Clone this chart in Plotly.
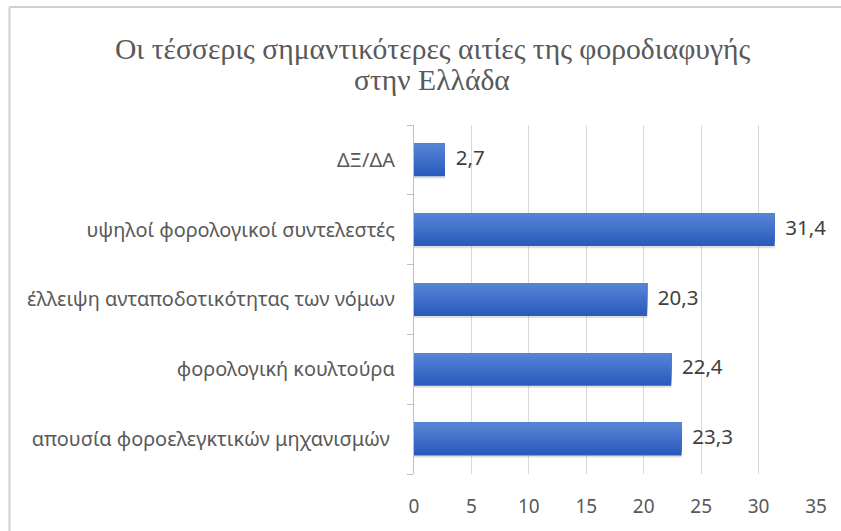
import plotly.graph_objects as go

# Causes of tax evasion in Greece (percent), listed bottom to top
categories = [
    "απουσία φοροελεγκτικών μηχανισμών\u00a0",
    "φορολογική κουλτούρα",
    "έλλειψη ανταποδοτικότητας των νόμων",
    "υψηλοί φορολογικοί συντελεστές",
    "ΔΞ/ΔΑ",
]
values = [23.3, 22.4, 20.3, 31.4, 2.7]
x_ticks = [0, 5, 10, 15, 20, 25, 30, 35]

title_lines = ["Οι τέσσερις σημαντικότερες αιτίες της φοροδιαφυγής", "στην Ελλάδα"]

BAR_W = 0.47
label_text = [f"{v:.1f}".replace(".", ",") for v in values]

W, H = 841, 531
L, R, T, B = 414, 25, 125, 54
plot_h = H - T - B
plot_w = W - L - R

fig = go.Figure()

# soft drop shadow below each bar
fig.add_trace(go.Bar(
    y=categories, x=values, orientation="h",
    width=BAR_W, offset=-BAR_W / 2 - 0.03,
    marker=dict(color="rgba(0,0,0,0.12)", line=dict(width=0)),
    hoverinfo="skip", showlegend=False,
))

# vertical colour gradient: each layer covers a shorter top portion, lighter each time
strip_colors = ["#2c5cbb", "#3060bf", "#3464c2", "#3969c5", "#3e6dc8",
                "#4372cb", "#4876ce", "#4d7ad0", "#527fd2", "#5783d4"]
n = len(strip_colors)
for i, col in enumerate(strip_colors):
    fig.add_trace(go.Bar(
        y=categories, x=values, orientation="h",
        width=BAR_W - i * BAR_W / n, offset=-BAR_W / 2 + i * BAR_W / n,
        marker=dict(color=col, line=dict(width=0)),
        hoverinfo="skip", showlegend=False,
    ))

# value labels to the right of each bar
fig.add_trace(go.Scatter(
    y=categories, x=values, mode="text",
    text=["  " + t for t in label_text], textposition="middle right",
    textfont=dict(family="Noto Sans", size=20.5, color="#404040"),
    hoverinfo="skip", showlegend=False, cliponaxis=False,
))

annotations = []
for k, line in enumerate(title_lines):
    annotations.append(dict(
        text=line, showarrow=False,
        xref="paper", x=(432 - L) / plot_w, xanchor="center",
        yref="paper", y=1 + (T - (48 + 32 * k)) / plot_h, yanchor="middle",
        font=dict(family="Liberation Serif", size=29.6, color="#595959"),
    ))

# chart frame: top and left edges of the outer border
frame_x0 = (9.5 - L) / plot_w
frame_y1 = 1 + (T - 6) / plot_h
frame = [
    dict(type="line", xref="paper", yref="paper",
         x0=frame_x0, x1=1.1, y0=frame_y1, y1=frame_y1,
         line=dict(color="#d0d0d0", width=2), layer="below"),
    dict(type="line", xref="paper", yref="paper",
         x0=frame_x0, x1=frame_x0, y0=-0.2, y1=frame_y1,
         line=dict(color="#d0d0d0", width=2), layer="below"),
]

fig.update_layout(
    width=W, height=H,
    margin=dict(l=L, r=R, t=T, b=B),
    paper_bgcolor="white", plot_bgcolor="white",
    barmode="overlay",
    separators=",.",
    annotations=annotations,
    shapes=frame,
    xaxis=dict(
        range=[0, 35], tickvals=x_ticks, ticktext=[str(t) for t in x_ticks],
        showgrid=True, gridcolor="#d9d9d9", gridwidth=1.3,
        zeroline=False, showline=False,
        ticks="", ticklabelstandoff=19,
        tickfont=dict(family="Noto Sans", size=19, color="#595959"),
        fixedrange=True,
    ),
    yaxis=dict(
        type="category", categoryorder="array", categoryarray=categories,
        showline=True, linecolor="#bfbfbf", linewidth=1.3,
        ticks="outside", tickson="boundaries", ticklen=6, tickcolor="#bfbfbf",
        ticklabelstandoff=14,
        tickfont=dict(family="Noto Sans", size=19.9, color="#595959"),
        showgrid=False, fixedrange=True,
    ),
)

fig.write_html("out.html")
